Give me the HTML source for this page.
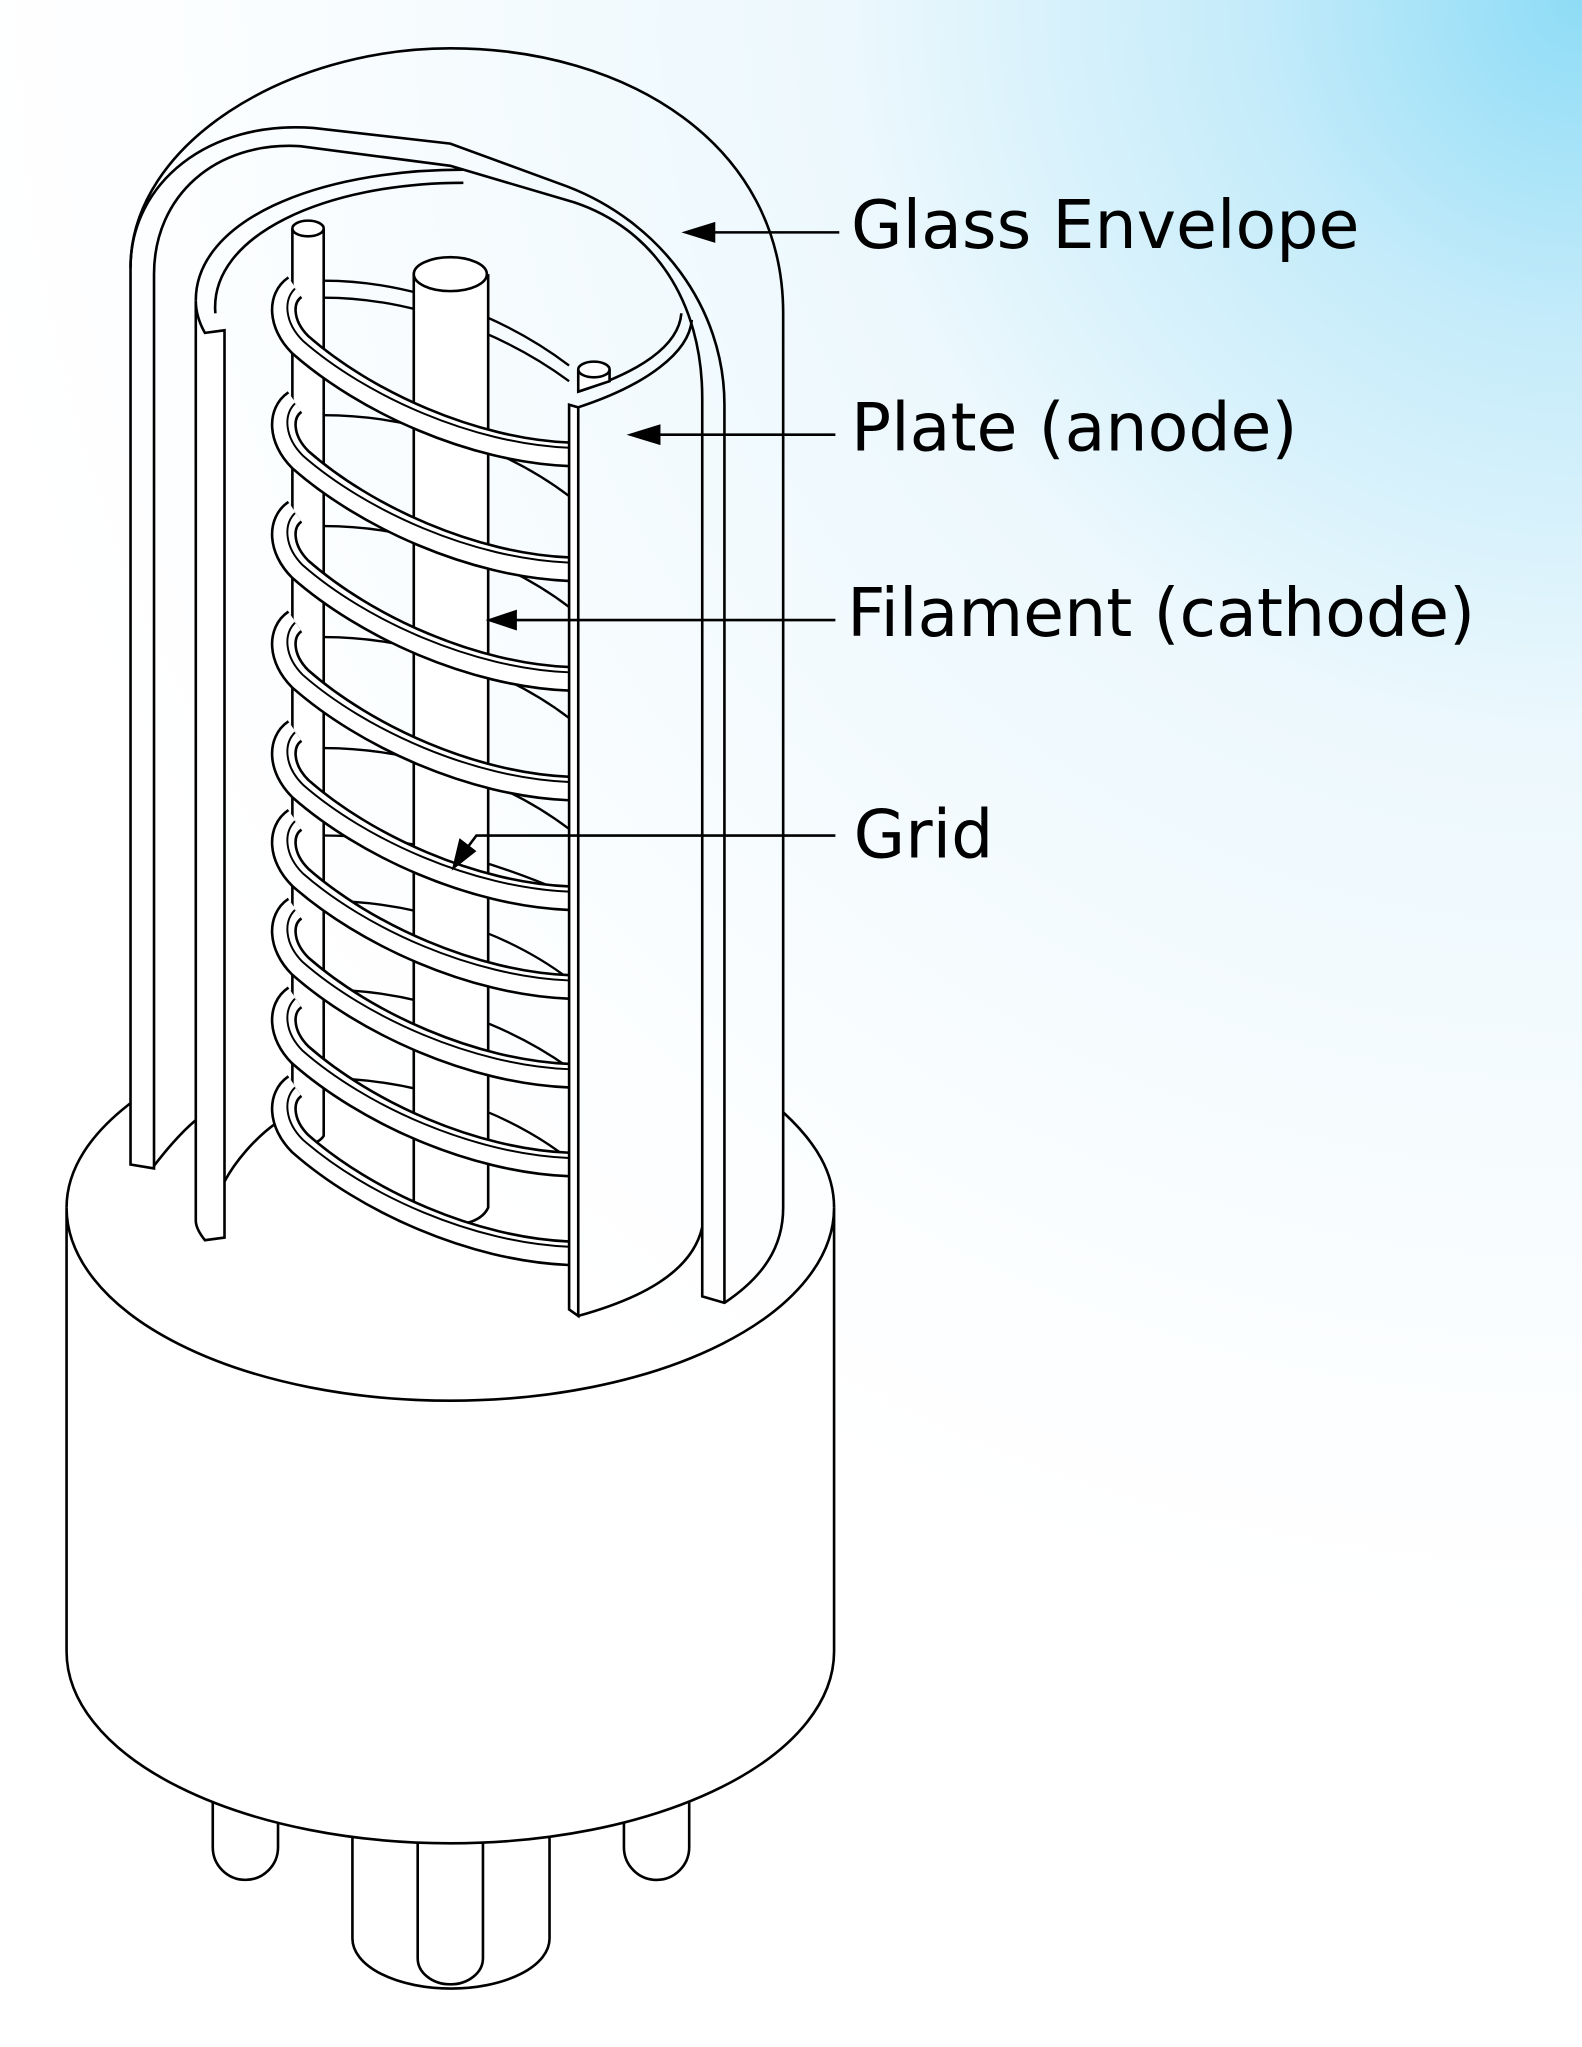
<!DOCTYPE html>
<html><head><meta charset="utf-8"><style>
html,body{margin:0;padding:0;background:#fff}
svg{display:block}
text{font-family:"DejaVu Sans","Liberation Sans",sans-serif;font-size:51px;fill:#000}
</style></head><body>
<svg width="1582" height="2047" viewBox="0 0 1212 1568" preserveAspectRatio="none" xmlns="http://www.w3.org/2000/svg">
<defs>
<radialGradient id="bg" cx="1212" cy="0" r="1250" gradientUnits="userSpaceOnUse">
<stop offset="0" stop-color="#8edcf6"/>
<stop offset="0.2" stop-color="#c4ebfa"/>
<stop offset="0.45" stop-color="#ecf8fd"/>
<stop offset="0.8" stop-color="#fafdff"/>
<stop offset="1" stop-color="#ffffff"/>
</radialGradient>
<g id="coil" fill="none">
<path d="M226,220 C214,228 214,248 230,264 C280,308 362,345 436,348" stroke="#000" stroke-width="20"/>
<path d="M226,220 C214,228 214,248 230,264 C280,308 362,345 436,348" stroke="#fff" stroke-width="16"/>
<path d="M226,221 C217,230 218,247 232,261 C280,303 362,340 436,343" stroke="#000" stroke-width="1.5"/>
</g>
</defs>
<rect width="1212" height="1568" fill="url(#bg)"/>
<g fill="none" stroke="#000" stroke-width="2">
<!-- pins -->
<path d="M163,1380 V1415 A25,25 0 0 0 213,1415 V1380" fill="#fff"/>
<path d="M478,1380 V1415 A25,25 0 0 0 528,1415 V1380" fill="#fff"/>
<path d="M270,1400 V1485 A75,38 0 0 0 421,1485 V1400" fill="#fff"/>
<path d="M320,1405 V1500 A25,20 0 0 0 370,1500 V1405" fill="#fff"/>
<!-- base -->
<path d="M51,925 V1265 A294,147 0 0 0 639,1265 V925 A294,148 0 0 1 51,925 Z" fill="#fff"/>
<path d="M51,925 C51,895 70,868 100,845"/>
<path d="M600,852 C625,875 639,898 639,925"/>
<path d="M118,893 C128,880 138,868 150,858"/>
<path d="M172,905 C180,890 195,872 212,860"/>
<!-- envelope -->
<path d="M100,892 V205 C100,110 220,37 345,37 C480,37 600,110 600,240 V925 C600,955 585,978 555,998 L538,993 V305 C538,230 500,175 440,155 L345,127 L230,112 C165,108 118,150 118,210 V895 Z" fill="none"/>
<path d="M100,205 C100,140 160,92 240,98 L345,110 L435,143 C505,170 555,235 555,310 V998"/>
<!-- plate back -->
<path d="M150,230 C150,170 240,130 355,130" />
<path d="M165,240 C160,180 250,140 355,140"/>
<path d="M443,300 C490,285 520,265 522,240"/>
<path d="M443,312 C495,295 528,270 530,245"/>
<path d="M538,940 C530,975 490,995 443,1008"/>
<!-- grid back lines -->
<g stroke-width="1.8">
<path d="M248,215 C320,215 390,245 436,280"/><path d="M248,228 C320,228 390,258 436,292"/>
<path d="M248,318 C320,318 390,345 436,380"/>
<path d="M248,403 C320,403 390,430 436,465"/>
<path d="M248,488 C320,488 390,515 436,550"/>
<path d="M248,573 C320,573 390,600 436,635"/>
<path d="M248,640 C320,640 390,665 436,685"/>
<path d="M248,690 C320,690 390,715 436,750"/>
<path d="M248,758 C320,758 390,785 436,818"/>
<path d="M248,826 C320,826 390,852 436,888"/>
</g>
<!-- rods -->
<path d="M224,175 V870 C230,878 243,878 248,870 V175" fill="#fff"/>
<ellipse cx="236" cy="175" rx="12" ry="6" fill="#fff"/>
<path d="M443,283 V300 L467,292 V283" fill="#fff"/>
<ellipse cx="455" cy="283" rx="12" ry="6" fill="#fff"/>
<path d="M317,210 V925 C320,940 365,945 374,925 V210" fill="#fff"/>
<ellipse cx="345" cy="210" rx="28" ry="13" fill="#fff"/>
<!-- plate left strip -->
<path d="M150,230 V935 C150,940 153,945 157,950 L172,948 V253 L157,255 C153,248 150,240 150,230 Z" fill="#fff"/>
</g>
<!-- coils front -->
<use href="#coil"/>
<use href="#coil" y="88"/>
<use href="#coil" y="172"/>
<use href="#coil" y="256"/>
<use href="#coil" y="340"/>
<use href="#coil" y="408"/>
<use href="#coil" y="476"/>
<use href="#coil" y="544"/>
<use href="#coil" y="612"/>
<g fill="none" stroke="#000" stroke-width="2">
<!-- front plate strip -->
<path d="M436,310 V1003 L443,1008 V312 Z" fill="#fff"/>
<!-- arrows -->
<path d="M643,178 H540"/><path d="M640,333 H500"/><path d="M640,475 H390"/><path d="M640,640 H365 L356,652"/>
</g>
<g fill="#000">
<path d="M522,178 L548,170 L548,186 Z"/>
<path d="M480,333 L506,325 L506,341 Z"/>
<path d="M372,475 L396,467 L396,483 Z"/>
<path d="M346,667 L352,642 L365,652 Z"/>
</g>
<text x="652" y="190">Glass Envelope</text>
<text x="652" y="345">Plate (anode)</text>
<text x="649" y="487">Filament (cathode)</text>
<text x="654" y="657">Grid</text>
</svg>
</body></html>
